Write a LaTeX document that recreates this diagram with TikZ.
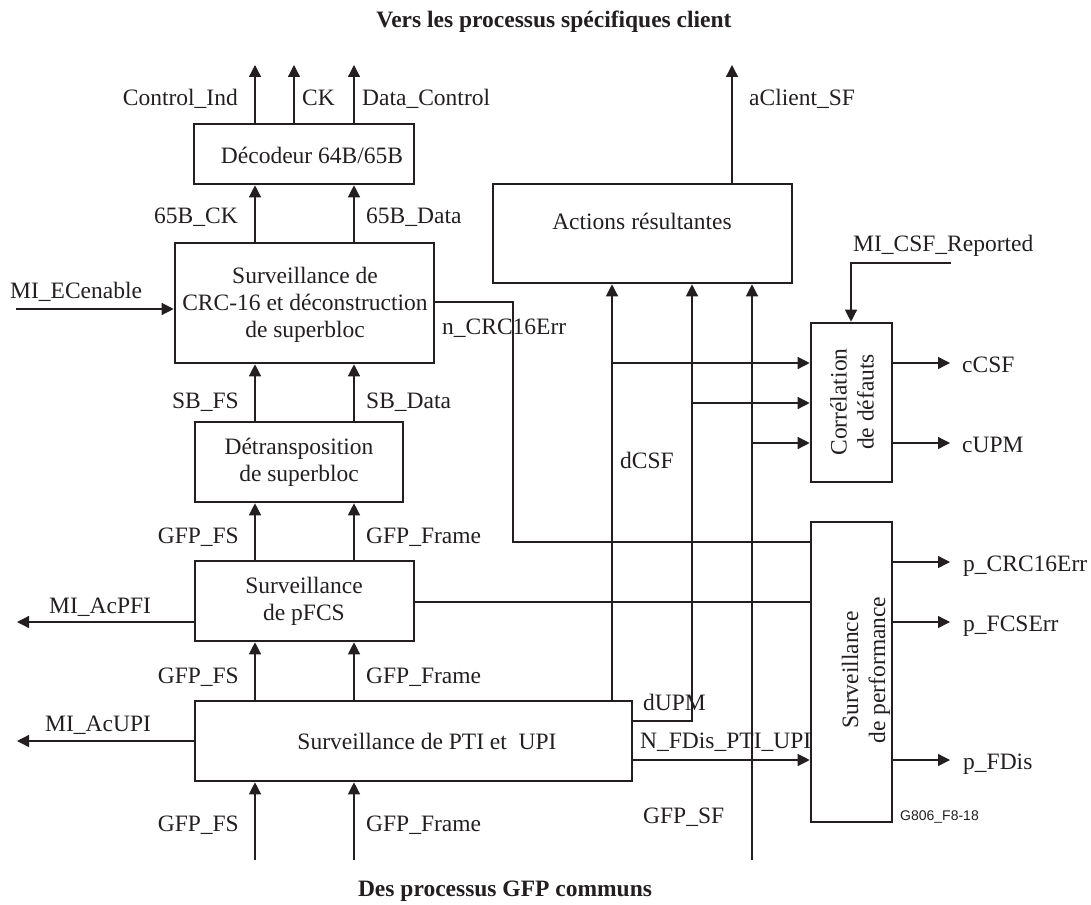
\documentclass[tikz,border=0pt]{standalone}
\usepackage{fontspec}
\setmainfont{Liberation Serif}
\newfontfamily\labsans{Liberation Sans}
\usetikzlibrary{arrows.meta}
\definecolor{ink}{HTML}{231F20}
\begin{document}
\begin{tikzpicture}[x=1pt,y=-1pt,
  font=\fontsize{23.5}{27}\selectfont, color=ink,
  box/.style={draw=ink, line width=2.6pt, inner sep=0pt},
  txt/.style={inner sep=0pt, align=center},
  lab/.style={inner sep=0pt},
  conn/.style={draw=ink, line width=1.3pt},
  arr/.style={conn, -{Triangle[length=12pt,width=12pt]}}]
\useasboundingbox (0,0) rectangle (1091,904);

% titles
\node[lab, font=\fontsize{23.5}{27}\selectfont\bfseries, anchor=base] (ttop) at (554,28) {Vers les processus spécifiques client};
\node[lab, font=\fontsize{23.5}{27}\selectfont\bfseries, anchor=base] (tbot) at (505,896) {Des processus GFP communs};

% boxes
\node[box, minimum width=220, minimum height=60] (dec) at (304,154) {};
\node[box, minimum width=259, minimum height=120] (crc) at (304.5,303) {};
\node[box, minimum width=208, minimum height=80] (det) at (299,462) {};
\node[box, minimum width=219, minimum height=80] (pfcs) at (304.5,601) {};
\node[box, minimum width=437, minimum height=80] (pti) at (413.5,741) {};
\node[box, minimum width=299, minimum height=99] (act) at (642.5,233.5) {};
\node[box, minimum width=81, minimum height=159] (cor) at (851.5,402.5) {};
\node[box, minimum width=81, minimum height=300] (perf) at (851.5,672) {};

% box texts
\node[txt] (tdec) at (312,155) {Décodeur 64B/65B};
\node[txt] (tcrc) at (305,305) {Surveillance de\\CRC-16 et déconstruction\\de superbloc};
\node[txt] (tdet) at (299,462) {Détransposition\\de superbloc};
\node[txt] (tpfcs) at (304,601) {Surveillance\\de pFCS};
\node[txt] (tpti) at (427,741) {Surveillance de PTI et\ \ UPI};
\node[txt] (tact) at (642,221) {Actions résultantes};
\node[txt, rotate=90] (tcor) at (852,402) {Corrélation\\de défauts};
\node[txt, rotate=90] (tperf) at (866,670) {Surveillance\\de performance};

% coordinates
\coordinate (o1) at (255,65);
\coordinate (o2) at (294,65);
\coordinate (o3) at (354,65);
\coordinate (cL) at (255,0);
\coordinate (cR) at (354,0);
\coordinate (inL) at (255,860);
\coordinate (inR) at (354,860);
\coordinate (ece) at (16,309);
\coordinate (pfi) at (17,622);
\coordinate (upi) at (17,741);
\coordinate (nc1) at (513,302);
\coordinate (nc2) at (513,542);
\coordinate (pf) at (0,602);
\coordinate (d1) at (612,0);
\coordinate (b1) at (612,363);
\coordinate (u0) at (692,721);
\coordinate (b2) at (692,403);
\coordinate (g0) at (752,860);
\coordinate (b3) at (752,443);
\coordinate (nf) at (0,760);
\coordinate (ac) at (732,65);
\coordinate (m0) at (951,263);
\coordinate (m1) at (851,263);
\coordinate (cc) at (950,363);
\coordinate (cu) at (950,443);
\coordinate (pc) at (950,562);
\coordinate (pe) at (950,622);
\coordinate (pd) at (950,760);

% vertical data path
\draw[arr] (dec.north -| o1) -- (o1);
\draw[arr] (dec.north -| o2) -- (o2);
\draw[arr] (dec.north -| o3) -- (o3);
\draw[arr] (crc.north -| cL) -- (dec.south -| cL);
\draw[arr] (crc.north -| cR) -- (dec.south -| cR);
\draw[arr] (det.north -| cL) -- (crc.south -| cL);
\draw[arr] (det.north -| cR) -- (crc.south -| cR);
\draw[arr] (pfcs.north -| cL) -- (det.south -| cL);
\draw[arr] (pfcs.north -| cR) -- (det.south -| cR);
\draw[arr] (pti.north -| cL) -- (pfcs.south -| cL);
\draw[arr] (pti.north -| cR) -- (pfcs.south -| cR);
\draw[arr] (inL) -- (pti.south -| inL);
\draw[arr] (inR) -- (pti.south -| inR);

% side signals
\draw[arr] (ece) -- (crc.west |- ece);
\draw[arr] (pfcs.west |- pfi) -- (pfi);
\draw[arr] (pti.west |- upi) -- (upi);
\draw[conn] (crc.east |- nc1) -- (nc1) -- (nc2) -- (perf.west |- nc2);
\draw[conn] (pfcs.east |- pf) -- (perf.west |- pf);

% defects
\draw[arr] (pti.north -| d1) -- (act.south -| d1);
\draw[arr] (b1) -- (cor.west |- b1);
\draw[arr] (pti.east |- u0) -- (u0) -- (act.south -| u0);
\draw[arr] (b2) -- (cor.west |- b2);
\draw[arr] (g0) -- (act.south -| g0);
\draw[arr] (b3) -- (cor.west |- b3);
\draw[arr] (pti.east |- nf) -- (perf.west |- nf);
\draw[arr] (act.north -| ac) -- (ac);
\draw[arr] (m0) -- (m1) -- (cor.north -| m1);

% outputs
\draw[arr] (cor.east |- cc) -- (cc);
\draw[arr] (cor.east |- cu) -- (cu);
\draw[arr] (perf.east |- pc) -- (pc);
\draw[arr] (perf.east |- pe) -- (pe);
\draw[arr] (perf.east |- pd) -- (pd);

% labels
\node[lab, anchor=base east] (lci) at (238,106) {Control\_Ind};
\node[lab, anchor=base west] (lck) at (302,106) {CK};
\node[lab, anchor=base west] (ldc) at (362,106) {Data\_Control};
\node[lab, anchor=base west] (lac) at (749,106) {aClient\_SF};
\node[lab, anchor=base east] (l65c) at (238,223) {65B\_CK};
\node[lab, anchor=base west] (l65d) at (366,223) {65B\_Data};
\node[lab, anchor=base west] (lece) at (10,298) {MI\_ECenable};
\node[lab, anchor=base west] (lncrc) at (442,334) {n\_CRC16Err};
\node[lab, anchor=base west] (lmcsf) at (853,251) {MI\_CSF\_Reported};
\node[lab, anchor=base west] (lccsf) at (962,372) {cCSF};
\node[lab, anchor=base west] (lcupm) at (962,452) {cUPM};
\node[lab, anchor=base east] (lsbfs) at (239,408) {SB\_FS};
\node[lab, anchor=base west] (lsbd) at (366,408) {SB\_Data};
\node[lab, anchor=base west] (ldcsf) at (620,468) {dCSF};
\node[lab, anchor=base east] (lgfs1) at (239,543) {GFP\_FS};
\node[lab, anchor=base west] (lgfr1) at (366,543) {GFP\_Frame};
\node[lab, anchor=base west] (lpcrc) at (963,571) {p\_CRC16Err};
\node[lab, anchor=base west] (lpfcs) at (963,631) {p\_FCSErr};
\node[lab, anchor=base west] (lpfi) at (49,613) {MI\_AcPFI};
\node[lab, anchor=base east] (lgfs2) at (239,683) {GFP\_FS};
\node[lab, anchor=base west] (lgfr2) at (366,683) {GFP\_Frame};
\node[lab, anchor=base west] (ldupm) at (643,710) {dUPM};
\node[lab, anchor=base west] (lupi) at (45,731) {MI\_AcUPI};
\node[lab, anchor=base west] (lnfd) at (640,748) {N\_FDis\_PTI\_UPI};
\node[lab, anchor=base west] (lpfd) at (963,769) {p\_FDis};
\node[lab, anchor=base east] (lgfs3) at (239,831) {GFP\_FS};
\node[lab, anchor=base west] (lgfr3) at (366,831) {GFP\_Frame};
\node[lab, anchor=base west] (lgsf) at (643,823) {GFP\_SF};
\node[lab, anchor=base west, font=\labsans\fontsize{14}{16}\selectfont] (lfig) at (900,820) {G806\_F8-18};
\end{tikzpicture}
\end{document}
